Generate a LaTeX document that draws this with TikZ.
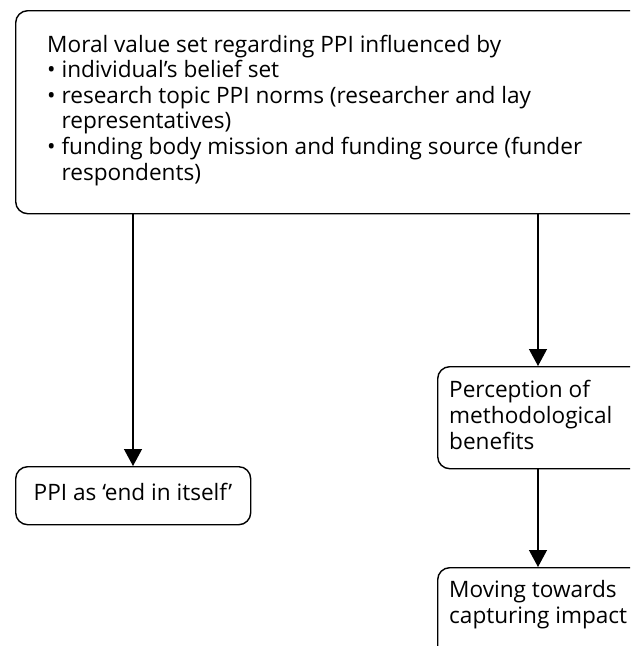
\documentclass[tikz,border=0pt]{standalone}
\usepackage{fontspec}
\setmainfont{Open Sans}
\usetikzlibrary{arrows.meta}
\tikzset{
  box/.style={draw, line width=1.4pt, rounded corners=12pt, inner sep=0pt},
  txt/.style={inner sep=0pt, align=left, font=\fontsize{22.6}{25.6}\selectfont},
  conn/.style={line width=1.3pt, -{Triangle[length=17pt,width=18pt]}}
}
\begin{document}
\begin{tikzpicture}[x=1pt,y=-1pt]
\useasboundingbox (0,0) rectangle (630,646);
\clip (0,0) rectangle (630,646);
% top box
\node[box, anchor=north west, minimum width=680pt, minimum height=203pt] (top) at (15,10) {};
\node[txt, anchor=base west] (toptext) at (47,180) {Moral value set regarding PPI influenced by\\
\textbullet\ individual’s belief set\\
\textbullet\ research topic PPI norms (researcher and lay\\
\phantom{\textbullet\ }representatives)\\
\textbullet\ funding body mission and funding source (funder\\
\phantom{\textbullet\ }respondents)};
% left box
\node[box, anchor=north west, minimum width=235pt, minimum height=58pt] (ppi) at (15,466) {};
\node[txt, anchor=base] (ppitext) at (133,500) {PPI as ‘end in itself’};
% perception box
\node[box, anchor=north west, minimum width=260pt, minimum height=102pt] (perc) at (437,366) {};
\node[txt, anchor=base west] (perctext) at (449,449) {Perception of\\methodological\\benefits};
% moving box
\node[box, anchor=north west, minimum width=260pt, minimum height=102pt] (move) at (437,567) {};
\node[txt, anchor=base west] (movetext) at (449,623) {Moving towards\\capturing impact};
% connectors
\coordinate (a1) at (133,213);
\coordinate (a2) at (538,213);
\draw[conn] (a1) -- (a1 |- ppi.north);
\draw[conn] (a2) -- (a2 |- perc.north);
\draw[conn] (a2 |- perc.south) -- (a2 |- move.north);
\end{tikzpicture}
\end{document}
